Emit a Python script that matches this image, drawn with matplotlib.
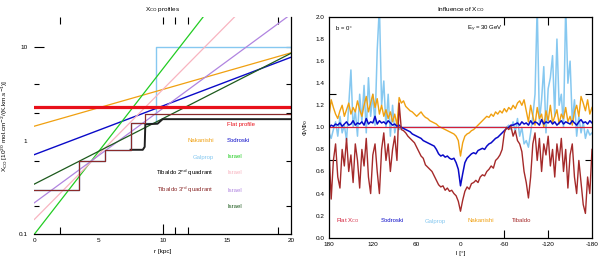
import numpy as np
import matplotlib
matplotlib.use("Agg")
import matplotlib.pyplot as plt
from matplotlib.ticker import FixedLocator, NullFormatter, FixedFormatter

plt.rcParams['font.family'] = ['Liberation Sans', 'DejaVu Sans']
plt.rcParams['mathtext.fontset'] = 'dejavusans'

# ---------------- left panel data: X_CO profiles ----------------
r_end = [0, 20]
flat_prof = [2.3, 2.3]
nakanishi_prof = [1.43, 8.7]
sodroski_prof = [0.71, 7.8]
israel_green = [0.1, 340.0]
israel_pink = [0.144, 85.7]
israel_purple = [0.217, 22.5]
israel_dkgreen = [0.344, 8.6]

r_steps = [0, 3.5, 5.5, 7.5, 9.5, 20]
galprop_prof = [0.30, 0.605, 0.79, 1.55, 10.0, 10.0]
r_tib3 = [0, 3.5, 5.5, 7.5, 8.6, 20]
tibaldo3_prof = [0.30, 0.605, 0.79, 1.55, 1.95, 1.95]
r_tib2 = [7.5, 8.45, 8.6, 8.65, 9.6, 10.0, 20]
tibaldo2_prof = [0.80, 0.80, 0.86, 1.50, 1.52, 1.70, 1.70]

# ---------------- right panel data: influence of X_CO ----------------
lon = np.arange(180, -181, -3)

sodroski_ratio = [
    1.00, 1.02, 1.01, 1.03, 1.02, 1.04, 1.01, 1.03, 1.05, 1.02, 1.03, 1.06,
    1.02, 1.04, 1.03, 1.05, 1.02, 1.08, 1.03, 1.05, 1.04, 1.10, 1.03, 1.06,
    1.04, 1.05, 1.03, 1.06, 1.04, 1.02, 1.03, 1.01, 1.02,
    1.00, 0.99, 0.98, 0.97, 0.96, 0.94, 0.93, 0.92, 0.91, 0.90, 0.88, 0.87,
    0.86, 0.85, 0.84, 0.83, 0.80, 0.76, 0.74, 0.75, 0.73, 0.74, 0.72, 0.71,
    0.72, 0.68, 0.62, 0.47,
    0.58, 0.68, 0.72, 0.74, 0.76, 0.77, 0.76, 0.79, 0.80, 0.81, 0.80, 0.83,
    0.85, 0.86, 0.88, 0.90, 0.91, 0.93, 0.95, 0.97, 0.99, 1.00, 1.02, 1.02,
    1.03, 1.04, 1.02, 1.05, 1.03, 1.04, 1.02, 1.06, 1.03, 1.05, 1.04, 1.02,
    1.07, 1.03, 1.05, 1.04, 1.06, 1.03, 1.05, 1.02, 1.04, 1.06, 1.03, 1.05,
    1.04, 1.03, 1.06, 1.04, 1.02, 1.05, 1.07, 1.04, 1.05, 1.03, 1.06, 1.04,
]

nakanishi_ratio = [
    1.10, 1.25, 1.18, 1.12, 1.08, 1.15, 1.20, 1.10, 1.16, 1.22, 1.12, 1.18,
    1.14, 1.24, 1.16, 1.10, 1.20, 1.28, 1.14, 1.22, 1.30, 1.18, 1.26, 1.12,
    1.20, 1.10, 1.16, 1.08, 1.14, 1.05, 1.12, 1.02,
    1.27, 1.22, 1.24, 1.19, 1.17, 1.15, 1.14, 1.12, 1.10, 1.12, 1.14, 1.11,
    1.09, 1.08, 1.06, 1.05, 1.04, 1.03, 1.01, 1.00, 0.99, 0.98, 0.97, 0.96,
    0.95, 0.94, 0.92, 0.88, 0.74,
    0.86, 0.92, 0.94, 0.95, 0.97, 0.98, 1.00, 1.02, 1.04, 1.06, 1.08, 1.10,
    1.09, 1.12, 1.10, 1.14, 1.12, 1.15, 1.13, 1.17, 1.14, 1.18, 1.16, 1.20,
    1.17, 1.22, 1.24, 1.20, 1.25,
    1.15, 1.05, 1.20, 1.10, 1.02, 1.18, 1.08, 1.12, 1.00, 1.15, 1.06, 1.20,
    1.04, 1.10, 1.16, 1.03, 1.12, 1.08, 1.18, 1.05, 1.10, 1.02, 1.14, 1.20,
    1.10, 1.28, 1.22, 1.15, 1.25, 1.12, 1.18,
]

galprop_ratio = [
    0.95, 0.90, 0.98, 1.05, 0.92, 1.10, 0.95, 1.02, 0.88, 1.20, 1.52, 1.00,
    1.15, 0.92, 1.30, 1.05, 1.38, 0.95, 1.45, 1.10, 1.30, 1.02, 1.70, 2.10,
    1.20, 1.42, 1.00, 1.30, 0.92, 1.20, 0.95, 1.05, 0.98,
] + [1.00] * 49 + [
    1.02, 0.98, 1.05, 0.96, 1.08, 0.92, 1.00, 0.85, 0.88, 0.82, 0.95, 1.10,
    1.30, 2.10, 1.05, 1.25, 1.55, 0.95, 1.35, 1.45, 1.65, 1.10, 1.80, 1.20,
    1.30, 1.00, 2.10, 1.40, 1.60, 1.05, 1.25, 0.92, 1.10, 0.95, 1.05, 0.90,
    0.98, 0.93, 0.95,
]

tibaldo_ratio = [
    0.80, 0.35, 0.70, 0.85, 0.55, 0.45, 0.80, 0.65, 0.90, 0.60, 0.75, 0.50,
    0.85, 0.70, 0.45, 0.80, 0.65, 0.90, 0.55, 0.40, 0.75, 0.85, 0.60, 0.40,
    0.80, 0.95, 0.70, 0.85, 0.60, 0.80, 0.92, 0.70,
    1.22, 0.98, 0.97, 0.95, 0.92, 0.90, 0.88, 0.86, 0.82, 0.78, 0.74, 0.72,
    0.66, 0.64, 0.62, 0.60, 0.56, 0.52, 0.48, 0.46, 0.47, 0.43, 0.45, 0.42,
    0.43, 0.40, 0.38, 0.33, 0.24,
    0.34, 0.42, 0.46, 0.44, 0.49, 0.50, 0.52, 0.50, 0.55, 0.57, 0.56, 0.60,
    0.62, 0.65, 0.63, 0.70, 0.72, 0.75, 0.80, 0.95, 1.00, 0.98, 1.01, 0.92,
    0.97, 0.88, 0.85, 0.78, 0.60,
    0.50, 0.36, 0.55, 0.85, 0.95, 0.70, 0.90, 0.60, 0.85, 0.75, 0.92, 0.65,
    0.80, 0.55, 0.85, 0.70, 0.90, 0.60, 0.80, 0.45, 0.75, 0.85, 0.55, 0.40,
    0.70, 0.50, 0.30, 0.22, 0.55, 0.40, 0.80,
]
flat_ratio = [1.0] * len(lon)

lon_ticks = [180, 120, 60, 0, -60, -120, -180]
lon_labels = ['180', '120', '60', '0', '-60', '-120', '-180']

# ---------------- colours ----------------
C_RED = '#e8101a'
C_RED2 = '#d41f3a'
C_ORANGE = '#f0a010'
C_BLUE = '#0a0ac8'
C_LBLUE = '#86c8f0'
C_GREEN = '#22cc22'
C_PINK = '#f8b4c0'
C_PURPLE = '#b084e0'
C_DKGREEN = '#1d5a1d'
C_BROWN = '#8a2a2a'
C_BROWN2 = '#a52a2a'

W, H = 600, 260
fig = plt.figure(figsize=(6, 2.6), dpi=100)


def fx(px):
    return px / W


def fy(py):
    return 1 - py / H


FS = 4.6

# ================= left panel =================
ax1 = fig.add_axes([fx(34.3), fy(234.3), (291 - 34.3) / W, (234.3 - 17) / H])
ax1.set_yscale('log')
ax1.plot(r_steps, galprop_prof, drawstyle='steps-post', color=C_LBLUE, lw=1.0)
ax1.plot(r_end, nakanishi_prof, color=C_ORANGE, lw=0.9)
ax1.plot(r_end, sodroski_prof, color=C_BLUE, lw=1.0)
ax1.plot(r_end, israel_green, color=C_GREEN, lw=0.9)
ax1.plot(r_end, israel_pink, color=C_PINK, lw=0.9)
ax1.plot(r_end, israel_purple, color=C_PURPLE, lw=0.9)
ax1.plot(r_end, israel_dkgreen, color=C_DKGREEN, lw=0.9)
ax1.plot(r_tib2, tibaldo2_prof, color='#202020', lw=1.4)
ax1.plot(r_tib3, tibaldo3_prof, drawstyle='steps-post', color=C_BROWN, lw=0.9)
ax1.plot(r_end, flat_prof, color=C_RED, lw=2.3)
ax1.set_xlim(0, 20)
ax1.set_ylim(0.1, 21)
for s in ['top', 'left']:
    ax1.spines[s].set_visible(False)
for s in ['bottom', 'right']:
    ax1.spines[s].set_linewidth(0.9)

ax1.yaxis.set_major_locator(FixedLocator([0.1, 1, 10]))
ax1.yaxis.set_major_formatter(FixedFormatter(['0.1', '1', '10']))
ax1.yaxis.set_minor_locator(FixedLocator([0.2, 0.6, 2, 4]))
ax1.yaxis.set_minor_formatter(NullFormatter())
ax1.tick_params(axis='y', which='both', direction='in', left=True, right=True,
                labelsize=FS, pad=5, width=0.8)
ax1.tick_params(axis='y', which='minor', length=3.5)
ax1.tick_params(axis='y', which='major', length=0)
ax1.set_xticks([0, 5, 10, 15, 20])
ax1.set_xticklabels(['0', '5', '10', '15', '20'])
ax1.xaxis.set_minor_locator(FixedLocator([2, 11, 12, 19]))
ax1.tick_params(axis='x', which='both', direction='in', bottom=True, top=True,
                labelsize=FS, pad=3, width=0.8)
ax1.tick_params(axis='x', which='minor', length=5)
ax1.tick_params(axis='x', which='major', length=0)
fig.canvas.draw()
for t in ax1.yaxis.get_major_ticks():
    if abs(t.get_loc() - 10) < 1e-6:
        t.tick1line.set_markersize(7)
        t.tick2line.set_markersize(3.5)
for t in ax1.xaxis.get_major_ticks():
    if abs(t.get_loc() - 10) < 1e-6:
        t.tick1line.set_markersize(7)
        t.tick2line.set_markersize(5)

ax1.set_title(r'X$_{\rm CO}$ profiles', fontsize=FS, pad=4)
ax1.set_xlabel('r [kpc]', fontsize=FS, labelpad=4)
ax1.set_ylabel(r'X$_{\rm CO}$ [10$^{20}$ mol.cm$^{-2}$/(K.km.s$^{-1}$)]',
               fontsize=FS, labelpad=6)

LFS = 4.3
fig.text(fx(227), fy(124), 'Flat profile', color=C_RED, fontsize=LFS, va='center', ha='left')
left_col = [
    ('Nakanishi', C_ORANGE, 140),
    ('Galprop', C_LBLUE, 157),
    (r'Tibaldo 2$^{\rm nd}$ quadrant', '#000000', 173),
    (r'Tibaldo 3$^{\rm rd}$ quadrant', C_BROWN, 190),
]
for txt, c, y in left_col:
    fig.text(fx(214), fy(y), txt, color=c, fontsize=LFS, va='center', ha='right')
right_col = [
    ('Sodroski', C_BLUE, 140),
    ('Israel', C_GREEN, 157),
    ('Israel', C_PINK, 173),
    ('Israel', C_PURPLE, 190),
    ('Israel', C_DKGREEN, 206),
]
for txt, c, y in right_col:
    fig.text(fx(227), fy(y), txt, color=c, fontsize=LFS, va='center', ha='left')

# ================= right panel =================
ax2 = fig.add_axes([fx(329), fy(237.7), (592 - 329) / W, (237.7 - 17) / H])
ax2.plot(lon, galprop_ratio, color=C_LBLUE, lw=1.1)
ax2.plot(lon, nakanishi_ratio, color=C_ORANGE, lw=1.0)
ax2.plot(lon, flat_ratio, color=C_RED2, lw=0.9)
ax2.plot(lon, sodroski_ratio, color=C_BLUE, lw=1.1)
ax2.plot(lon, tibaldo_ratio, color=C_BROWN2, lw=1.0)
ax2.set_xlim(180, -180)
ax2.set_ylim(0, 2.0)
for s in ax2.spines.values():
    s.set_linewidth(0.9)
ax2.set_xticks(lon_ticks)
ax2.set_xticklabels(lon_labels)
ax2.tick_params(axis='x', which='major', direction='in', bottom=True, top=True,
                labelsize=FS, pad=3, length=0, width=0.8)
fig.canvas.draw()
for t in ax2.xaxis.get_major_ticks():
    if t.get_loc() in (-60, -120):
        t.tick1line.set_markersize(6)
        t.tick2line.set_markersize(6)
ax2.set_yticks(np.round(np.arange(0, 2.01, 0.2), 1))
ax2.set_yticklabels(['%.1f' % v for v in np.arange(0, 2.01, 0.2)])
ax2.yaxis.set_minor_locator(FixedLocator([0.7, 1.3, 1.4]))
ax2.tick_params(axis='y', which='both', direction='in', left=True, right=True,
                labelsize=FS, pad=3, width=0.8)
ax2.tick_params(axis='y', which='major', length=0)
ax2.tick_params(axis='y', which='minor', length=5)
ax2.set_title(r'Influence of X$_{\rm CO}$', fontsize=FS, pad=4)
ax2.set_xlabel('l [°]', fontsize=FS, labelpad=3)
ax2.set_ylabel(r'$\Phi/\Phi_0$', fontsize=FS, labelpad=4)

fig.text(fx(336), fy(29), 'b = 0°', fontsize=LFS, va='center', ha='left')
fig.text(fx(467), fy(29), r'E$_\gamma$ = 30 GeV', fontsize=LFS, va='center', ha='left')
bottom_leg = [
    (r'Flat X$_{\rm CO}$', C_RED2, 336),
    ('Sodroski', C_BLUE, 381),
    ('Galprop', C_LBLUE, 425),
    ('Nakanishi', C_ORANGE, 468),
    ('Tibaldo', C_BROWN2, 512),
]
for txt, c, x in bottom_leg:
    fig.text(fx(x), fy(221), txt, color=c, fontsize=LFS, va='center', ha='left')

fig.savefig('out.png', dpi=100)
